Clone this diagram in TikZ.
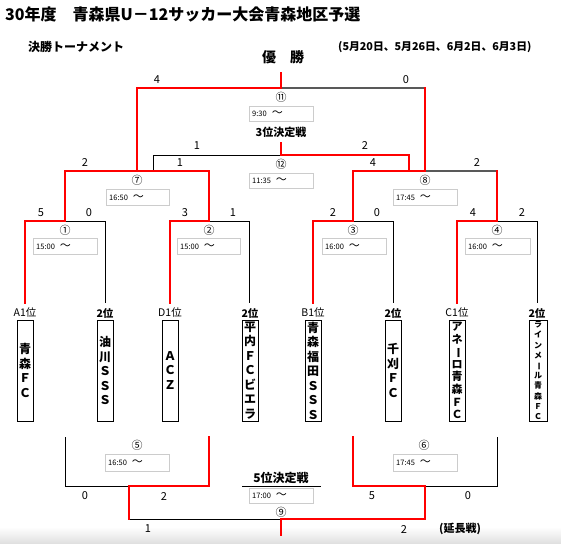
\documentclass[tikz,border=0pt]{standalone}
\usepackage{fontspec}
\usepackage{graphicx}
\setmainfont{Noto Sans CJK JP}
\newcommand{\vbarchar}{\rotatebox[origin=c]{-90}{ー}}
\newcommand{\tmbox}[5]{%
  \node[tb,anchor=north west,minimum width=#3pt,minimum height=#4pt] (#1) at (#2) {};
  \node[anchor=west,inner sep=0pt] (#1t) at ([xshift=3pt]#1.west) {\fontsize{7.5}{8}\selectfont #5\hspace{5pt}\fontsize{11}{11}\selectfont 〜};}
\begin{document}
\begin{tikzpicture}[x=1pt,y=-1pt,
  blk/.style={draw=black,line width=0.8pt},
  gry/.style={draw=black!65,line width=1.2pt},
  rd/.style={draw=red,line width=1.8pt,line cap=rect},
  sc/.style={font=\fontsize{11}{11}\selectfont,inner sep=0pt},
  cn/.style={font=\fontsize{11}{11}\selectfont,inner sep=0pt},
  tb/.style={draw=black!20,line width=0.6pt,rectangle,inner sep=0pt},
  lbl/.style={font=\fontsize{10.5}{10.5}\selectfont,inner sep=0pt},
  lblb/.style={font=\bfseries\fontsize{10.5}{10.5}\selectfont,inner sep=0pt},
  team/.style={draw=black,line width=0.9pt,minimum width=16pt,minimum height=101pt,inner sep=0pt,align=center,font=\bfseries\fontsize{12}{14.5}\selectfont},
]
\useasboundingbox (0,0) rectangle (561,543);
\fill[top color=white,bottom color=black!12] (0,527) rectangle (561,543);

% headings
\node[anchor=west,inner sep=0pt,font=\bfseries\fontsize{16}{16}\selectfont] (title) at (5,14) {30年度　青森県U－12サッカー大会青森地区予選};
\node[anchor=west,inner sep=0pt,font=\bfseries\fontsize{12}{12}\selectfont] (sub) at (28,47) {決勝トーナメント};
\node[inner sep=0pt,font=\bfseries\fontsize{14}{14}\selectfont] (champ) at (283,57) {優　勝};
\node[anchor=west,inner sep=0pt,font=\bfseries\fontsize{10.8}{10.8}\selectfont] (dates) at (338,47) {(5月20日、5月26日、6月2日、6月3日)};

% coordinates
\coordinate (F0) at (281,73); \coordinate (F) at (281,88);
\coordinate (FL) at (137,88); \coordinate (FR) at (425,88);
\coordinate (S7) at (137,171); \coordinate (S7L) at (65,171); \coordinate (S7R) at (209,171);
\coordinate (S8) at (425,171); \coordinate (S8L) at (353,171); \coordinate (S8R) at (497,171);
\coordinate (T0) at (281,143); \coordinate (T) at (281,155);
\coordinate (TL) at (153,155); \coordinate (TLd) at (153,171);
\coordinate (TR) at (409,155); \coordinate (TRd) at (409,171);
\coordinate (M1) at (65,221); \coordinate (M1L) at (25,221); \coordinate (M1R) at (105,221);
\coordinate (M2) at (209,221); \coordinate (M2L) at (170,221); \coordinate (M2R) at (249,221);
\coordinate (M3) at (353,221); \coordinate (M3L) at (313,221); \coordinate (M3R) at (393,221);
\coordinate (M4) at (497,221); \coordinate (M4L) at (457,221); \coordinate (M4R) at (537,221);
\coordinate (A1) at (25,303); \coordinate (A2) at (105,303);
\coordinate (D1) at (170,303); \coordinate (D2) at (249,303);
\coordinate (B1) at (313,303); \coordinate (B2) at (393,303);
\coordinate (C1) at (457,303); \coordinate (C2) at (537,303);
% bottom
\coordinate (P5L) at (65,437); \coordinate (P5R) at (209,437);
\coordinate (Q5L) at (65,486); \coordinate (Q5R) at (209,486); \coordinate (Q5) at (129,486);
\coordinate (R5) at (129,519); \coordinate (R) at (281,519); \coordinate (R0) at (281,535);
\coordinate (R6) at (425,519); \coordinate (Q6) at (425,486);
\coordinate (Q6L) at (353,486); \coordinate (Q6R) at (497,486);
\coordinate (P6L) at (353,437); \coordinate (P6R) at (497,437);
\coordinate (U1) at (242,486); \coordinate (U2) at (321,486);

% black / gray lines
\draw[gry] (F) -- (FR);
\draw[blk] (TLd) -- (TL) -- (T);
\draw[gry] (S8) -- (S8R);
\draw[blk] (M1) -- (M1R) -- (A2);
\draw[blk] (M2) -- (M2R) -- (D2);
\draw[blk] (M3) -- (M3R) -- (B2);
\draw[blk] (M4) -- (M4R) -- (C2);
\draw[blk] (P5L) -- (Q5L) -- (Q5);
\draw[blk] (R5) -- (R);
\draw[blk] (Q6) -- (Q6R) -- (P6R);
\draw[blk] (U1) -- (U2);

% red lines
\draw[rd] (F0) -- (F);
\draw[rd] (S7) -- (FL) -- (F);
\draw[rd] (FR) -- (S8);
\draw[rd] (T0) -- (T) -- (TR) -- (TRd);
\draw[rd] (M1) -- (S7L) -- (S7R) -- (M2);
\draw[rd] (M3) -- (S8L) -- (S8);
\draw[rd] (S8R) -- (M4);
\draw[rd] (A1) -- (M1L) -- (M1);
\draw[rd] (D1) -- (M2L) -- (M2);
\draw[rd] (B1) -- (M3L) -- (M3);
\draw[rd] (C1) -- (M4L) -- (M4);
\draw[rd] (P5R) -- (Q5R) -- (Q5) -- (R5);
\draw[rd] (R0) -- (R) -- (R6) -- (Q6) -- (Q6L) -- (P6L);

% scores
\node[sc] (s1) at (157,80) {4};  \node[sc] (s2) at (406,80) {0};
\node[sc] (s3) at (197,146) {1}; \node[sc] (s4) at (365,146) {2};
\node[sc] (s5) at (85,163) {2};  \node[sc] (s6) at (180,163) {1};
\node[sc] (s7) at (373,163) {4}; \node[sc] (s8) at (477,163) {2};
\node[sc] (s9) at (41,213) {5};  \node[sc] (s10) at (89,213) {0};
\node[sc] (s11) at (185,213) {3}; \node[sc] (s12) at (233,213) {1};
\node[sc] (s13) at (333,213) {2}; \node[sc] (s14) at (377,213) {0};
\node[sc] (s15) at (473,213) {4}; \node[sc] (s16) at (522,213) {2};
\node[sc] (s17) at (85,496) {0};  \node[sc] (s18) at (164,496) {2};
\node[sc] (s19) at (372,496) {5}; \node[sc] (s20) at (468,496) {0};
\node[sc] (s21) at (148,529) {1}; \node[sc] (s22) at (404,529) {2};
\node[inner sep=0pt,font=\bfseries\fontsize{11}{11}\selectfont] (ext) at (460,529) {(延長戦)};

% circled numbers
\node[cn] (c11) at (281,97) {⑪};
\node[cn] (c12) at (281,164) {⑫};
\node[cn] (c7) at (137,180) {⑦};
\node[cn] (c8) at (425,180) {⑧};
\node[cn] (c1) at (65,230) {①};
\node[cn] (c2) at (209,230) {②};
\node[cn] (c3) at (353,230) {③};
\node[cn] (c4) at (497,230) {④};
\node[cn] (c5) at (137,445) {⑤};
\node[cn] (c6) at (424,445) {⑥};
\node[cn] (c9) at (281,512) {⑨};

% time boxes
\tmbox{b11}{249,106}{64}{15}{9:30}
\tmbox{b12}{249,173}{64}{15}{11:35}
\tmbox{b7}{106,189}{63}{16}{16:50}
\tmbox{b8}{393,189}{64}{16}{17:45}
\tmbox{b1}{33,238}{64}{16}{15:00}
\tmbox{b2}{177,238}{63}{16}{15:00}
\tmbox{b3}{322,238}{64}{16}{16:00}
\tmbox{b4}{465,238}{65}{16}{16:00}
\tmbox{b5}{105,454}{64}{17}{16:50}
\tmbox{b6}{393,454}{64}{17}{17:45}
\tmbox{b9}{249,488}{64}{15}{17:00}

\node[inner sep=0pt,font=\bfseries\fontsize{11}{11}\selectfont] (third) at (281,132) {3位決定戦};
\node[inner sep=0pt,font=\bfseries\fontsize{12}{12}\selectfont] (fifth) at (281,478) {5位決定戦};

% team labels
\node[lbl] (lA1) at (25,313) {A1位};
\node[lblb] (lA2) at (105,313) {2位};
\node[lbl] (lD1) at (170,313) {D1位};
\node[lblb] (lD2) at (250,313) {2位};
\node[lbl] (lB1) at (313,313) {B1位};
\node[lblb] (lB2) at (393,313) {2位};
\node[lbl] (lC1) at (457,313) {C1位};
\node[lblb] (lC2) at (537,313) {2位};

% team boxes
\node[team] (tA1) at (25,370.5) {青\\森\\Ｆ\\Ｃ};
\node[team] (tA2) at (105,370.5) {油\\川\\Ｓ\\Ｓ\\Ｓ};
\node[team] (tD1) at (170,370.5) {Ａ\\Ｃ\\Ｚ};
\node[team] (tD2) at (250,370.5) {平\\内\\Ｆ\\Ｃ\\ビ\\エ\\ラ};
\node[team] (tB1) at (313,370.5) {青\\森\\福\\田\\Ｓ\\Ｓ\\Ｓ};
\node[team] (tB2) at (393,370.5) {千\\刈\\Ｆ\\Ｃ};
\node[team,font=\bfseries\fontsize{11}{12.6}\selectfont] (tC1) at (457,370.5) {ア\\ネ\\\vbarchar\\ロ\\青\\森\\Ｆ\\Ｃ};
\node[team,minimum width=18pt,font=\bfseries\fontsize{8}{10.2}\selectfont] (tC2) at (538,370.5) {ラ\\イ\\ン\\メ\\\vbarchar\\ル\\青\\森\\Ｆ\\Ｃ};
\end{tikzpicture}
\end{document}
